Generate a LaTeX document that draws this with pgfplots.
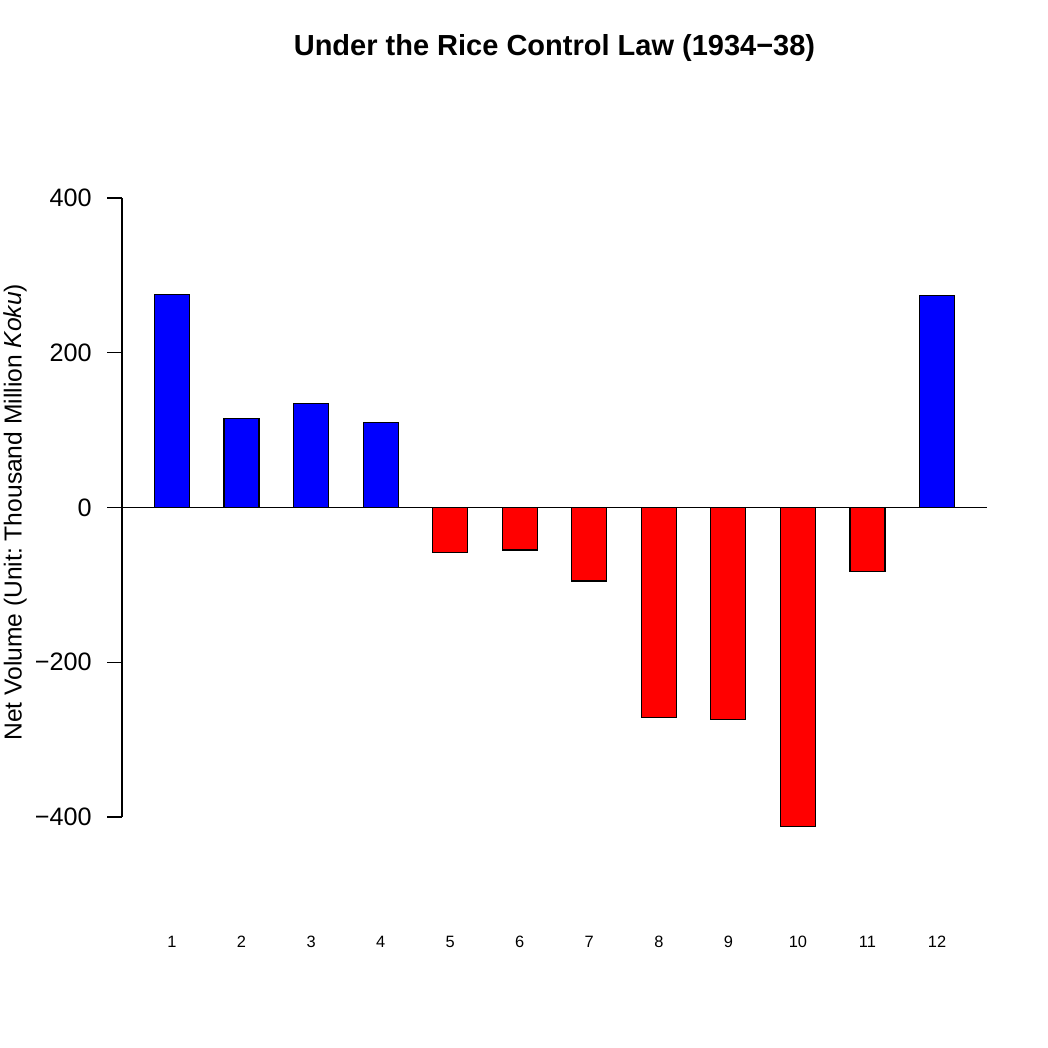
\documentclass[border=0pt]{standalone}
\usepackage{fontspec}
\setmainfont{Liberation Sans}
\usepackage{pgfplots}
\pgfplotsset{compat=1.18}
\frenchspacing
\begin{document}
\begin{tikzpicture}
\begin{axis}[
  scale only axis, width=432.5pt, height=371.4pt,
  xmin=0.281, xmax=12.719, ymin=-540, ymax=420,
  axis line style={draw=none},
  clip=false,
  xtick={1,2,3,4,5,6,7,8,9,10,11,12},
  xticklabels={1,2,3,4,5,6,7,8,9,10,11,12},
  xtick pos=bottom,
  xtick style={draw=none},
  xticklabel style={font=\fontsize{8.2}{9.6}\selectfont, anchor=center, yshift=-0.85pt},
  ytick={-400,-200,0,200,400},
  yticklabels={−400,−200,0,200,400},
  ytick pos=left,
  tick align=outside,
  major tick length=7.5pt,
  ytick style={black, line width=0.6pt},
  yticklabel style={font=\fontsize{12.6}{15}\selectfont, anchor=east, inner sep=0pt, xshift=-7.5pt},
  ylabel={Net Volume (Unit: Thousand Million \textit{Koku})},
  ylabel style={at={(axis description cs:-0.1235,0.556)}, anchor=center, font=\fontsize{12.3}{15}\selectfont},
  title={Under the Rice Control Law (1934−38)},
  title style={at={(axis description cs:0.5,1.165)}, anchor=center, font=\bfseries\fontsize{14.5}{17}\selectfont},
]
\addplot[ybar, bar width=17.5pt, bar shift=0pt, fill=blue, draw=black, line width=0.6pt]
  coordinates {(1,275) (2,115) (3,134) (4,110) (12,274)};
\addplot[ybar, bar width=17.5pt, bar shift=0pt, fill=red, draw=black, line width=0.6pt]
  coordinates {(5,-58) (6,-55) (7,-95) (8,-271) (9,-274) (10,-412) (11,-83)};
\addplot[sharp plot, no marks, black, line width=0.6pt]
  coordinates {(0.281,0) (12.719,0)};
\draw[black, line width=0.6pt] (axis cs:0.281,-400) -- (axis cs:0.281,400);
\end{axis}
\pgfresetboundingbox
\path[use as bounding box] (current axis.south west) ++(-61pt,-61.35pt) rectangle ++(524pt,524pt);
\end{tikzpicture}
\end{document}
